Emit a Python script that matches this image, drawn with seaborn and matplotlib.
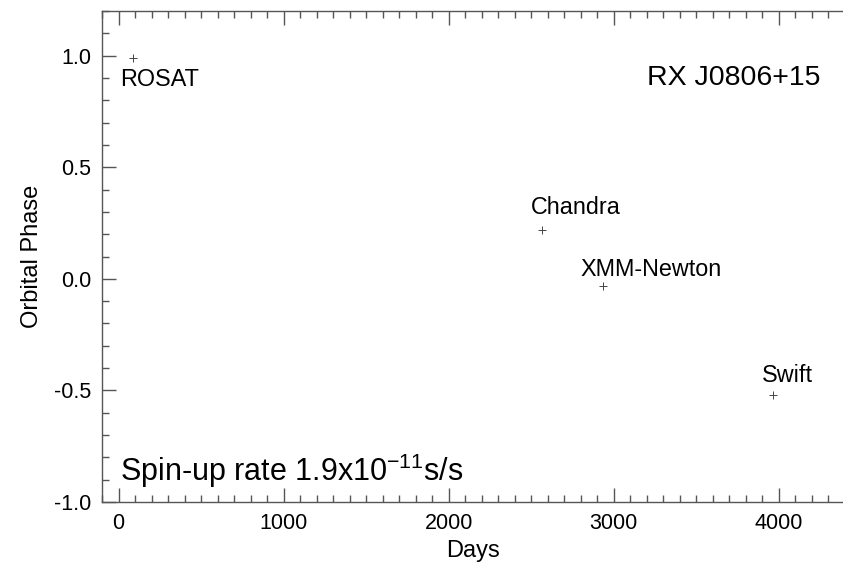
import matplotlib
matplotlib.use("Agg")
import matplotlib.pyplot as plt
import seaborn as sns
import pandas as pd
from matplotlib.ticker import MultipleLocator, FormatStrFormatter

# Observation epochs (days) and measured orbital phase
missions = ["ROSAT", "Chandra", "XMM-Newton", "Swift"]
days = [88, 2567, 2936, 3967]
phase = [0.99, 0.22, -0.03, -0.52]

# Label anchor positions (data coordinates)
label_x = [10, 2500, 2800, 3900]
label_y = [0.895, 0.32, 0.04, -0.433]

df = pd.DataFrame({"Days": days, "Orbital Phase": phase, "mission": missions})

sns.set_theme(style="ticks")
plt.rcParams["font.family"] = ["Liberation Sans", "DejaVu Sans"]
plt.rcParams["axes.unicode_minus"] = False
plt.rcParams["mathtext.fontset"] = "custom"
plt.rcParams["mathtext.rm"] = "Liberation Sans"
plt.rcParams["mathtext.it"] = "Liberation Sans"
plt.rcParams["text.color"] = "black"
plt.rcParams["axes.labelcolor"] = "black"

fig = plt.figure(figsize=(8.43, 5.64), dpi=100)
ax = fig.add_axes([102 / 843, 62 / 564, 1 - 102 / 843, (502 - 11) / 564])

sns.scatterplot(data=df, x="Days", y="Orbital Phase", marker="+", s=40,
                color="#444444", linewidth=0.7, ax=ax, legend=False)

for name, lx, ly in zip(missions, label_x, label_y):
    ax.text(lx, ly, name, fontsize=16.8, ha="left", va="center", color="black")

ax.text(3203, 0.9, "RX J0806+15", fontsize=20.5, ha="left", va="center", color="black")
ax.text(10, -0.86, r"Spin-up rate 1.9x10$^{\mathregular{-11}}$s/s", fontsize=22,
        ha="left", va="center", color="black")

ax.set_xlim(-100, 4390)
ax.set_ylim(-1.0, 1.2)
ax.xaxis.set_major_locator(MultipleLocator(1000))
ax.xaxis.set_minor_locator(MultipleLocator(100))
ax.yaxis.set_major_locator(MultipleLocator(0.5))
ax.yaxis.set_minor_locator(MultipleLocator(0.1))
ax.yaxis.set_major_formatter(FormatStrFormatter("%.1f"))

ax.set_xlabel("Days", fontsize=17, labelpad=4, color="black")
ax.set_ylabel("Orbital Phase", fontsize=17, labelpad=8, color="black")

spine_color = "#555555"
for side in ["left", "bottom", "top"]:
    ax.spines[side].set_color(spine_color)
    ax.spines[side].set_linewidth(1.0)
ax.spines["right"].set_visible(False)

ax.tick_params(which="both", direction="in", top=True, right=False,
               color=spine_color, width=1.0, labelsize=15.5, labelcolor="black")
ax.tick_params(which="major", length=10, pad=8)
ax.tick_params(which="minor", length=5)

fig.savefig("out.png", dpi=100)
